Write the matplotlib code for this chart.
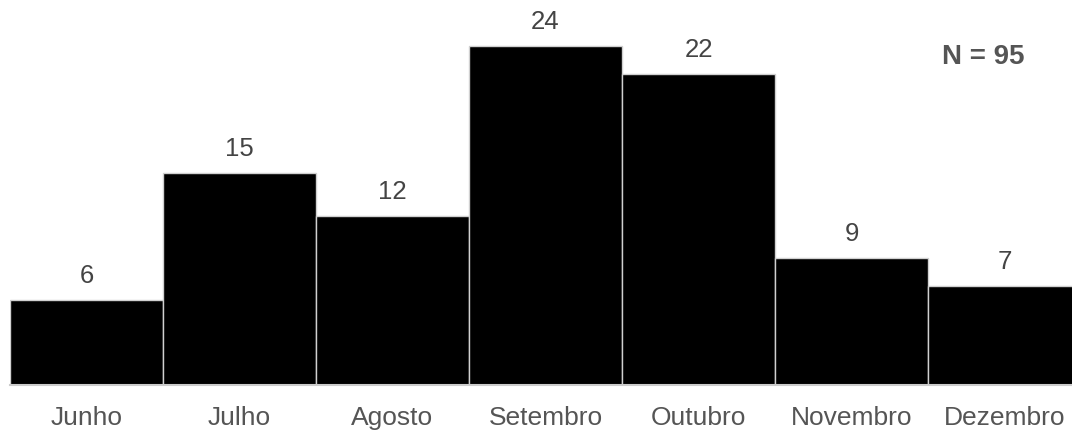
import matplotlib.pyplot as plt

months = ['Junho', 'Julho', 'Agosto', 'Setembro', 'Outubro', 'Novembro', 'Dezembro']
counts = [6, 15, 12, 24, 22, 9, 7]
total = 95

plt.rcParams['font.family'] = ['Liberation Sans', 'DejaVu Sans']

fig = plt.figure(figsize=(10.72, 4.32), dpi=100)
# axes run a little past the right edge so the last bar is cut off
ax = fig.add_axes([10 / 1072, 47 / 432, 1071 / 1072, 27 * 14.125 / 432])

x = list(range(len(months)))
ax.bar(x, counts, width=1.0, color='black', edgecolor='#d0d0d0', linewidth=1.0)

for xi, c in zip(x, counts):
    ax.annotate(str(c), (xi, c), xytext=(0, 8.5), textcoords='offset points',
                ha='center', va='bottom', fontsize=18.5, color='#444444')

ax.set_xlim(-0.5, 6.5)
ax.set_ylim(0, 27)
ax.set_xticks(x)
ax.set_xticklabels(months, fontsize=19, color='#555555')
ax.tick_params(axis='x', length=0, pad=15)
ax.set_yticks([])
for side in ['top', 'right', 'left']:
    ax.spines[side].set_visible(False)
ax.spines['bottom'].set_color('#cccccc')
ax.spines['bottom'].set_linewidth(1.5)

fig.text(983 / 1072, 1 - 57 / 432, 'N = ' + str(total), ha='center', va='center',
         fontsize=20, fontweight='bold', color='#555555')

fig.savefig('out.png', dpi=100)
